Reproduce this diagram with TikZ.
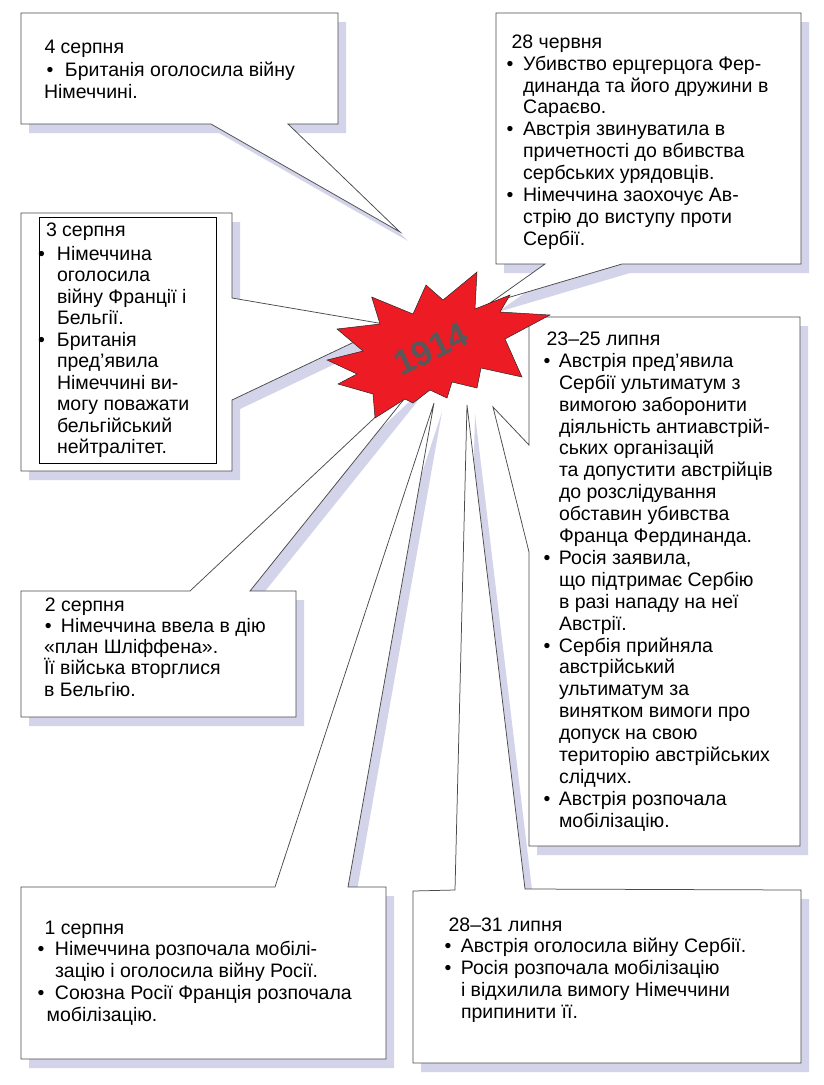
\documentclass[tikz,border=0pt]{standalone}
\usepackage{fontspec}
\setmainfont{Liberation Sans}
\definecolor{shd}{HTML}{D3D3EA}
\definecolor{edgegray}{HTML}{4A4A4A}
\definecolor{starred}{HTML}{ED1C24}
\definecolor{numgray}{HTML}{58585A}
\newcommand{\bul}[2]{\makebox[#2][l]{\hspace*{#1}•}}
\newcommand{\calA}{(21,13) -- (338,13) -- (338,124) -- (288,124) -- (400,232) -- (211,124) -- (21,124) -- cycle}
\newcommand{\calB}{(496,13) -- (801,13) -- (801,264) -- (622,264) -- (490,303) -- (545,264) -- (496,264) -- cycle}
\newcommand{\calC}{(21,213) -- (232,213) -- (232,298) -- (390,325) -- (232,400) -- (232,471) -- (21,471) -- cycle}
\newcommand{\calD}{(529,317) -- (800,317) -- (800,846) -- (529,846) -- (529,552) -- (493,407) -- (529,445) -- cycle}
\newcommand{\calE}{(21,591) -- (190,591) -- (433,363) -- (250,591) -- (296,591) -- (296,717) -- (21,717) -- cycle}
\newcommand{\calF}{(21,887) -- (275,887) -- (434,403) -- (348,887) -- (386,887) -- (386,1059) -- (21,1059) -- cycle}
\newcommand{\calG}{(413,891) -- (455,890) -- (467,405) -- (525,889) -- (801,890) -- (801,1063) -- (413,1063) -- cycle}
\begin{document}
\begin{tikzpicture}[x=1pt,y=-1pt,
  callout/.style={fill=white, draw=edgegray, line width=0.75pt, line join=miter},
  shadowfill/.style={fill=shd, draw=none, shift={(8,9)}},
  txt/.style={anchor=base west, inner sep=0pt, outer sep=0pt}]
\useasboundingbox (0,0) rectangle (824,1085);
% shadows
\foreach \c in {\calA,\calB,\calC,\calD,\calE,\calF,\calG}{
  \fill[shadowfill] \c;
}
% callouts
\draw[callout] \calA;
\draw[callout] \calB;
\draw[callout] \calC;
\draw[callout] \calD;
\draw[callout] \calE;
\draw[callout] \calF;
\draw[callout] \calG;
\draw[black, line width=1pt] (39,217) rectangle (216,463);
% star
\draw[fill=starred, draw=black!85, line width=0.5pt]
 (371.7,297) -- (413,314) -- (426,285) -- (443,300) -- (477,272) -- (475,309)
 -- (510,295) -- (500,312) -- (550,315) -- (505,339) -- (522,377) -- (481,368)
 -- (477,388) -- (452,382) -- (447,398) -- (430,390) -- (413,403) -- (405,399)
 -- (375,418) -- (373,394) -- (338,384) -- (357,374) -- (327,360) -- (363,351)
 -- (337,329) -- (380,324) -- cycle;
\node[rotate=26, text=numgray, inner sep=0pt, font=\fontsize{35}{35}\bfseries\selectfont] (year) at (431,349) {1914};
% texts
\node[txt] (t1) at (44,53.3) {\parbox[t]{300pt}{\raggedright\fontsize{19.5}{21.7}\selectfont
\hspace*{0.5pt}4 серпня\\[1.5pt]
\bul{2.5pt}{21pt}Британія оголосила війну\\
Німеччині.}};
\node[txt] (t2) at (506.6,48.3) {\parbox[t]{300pt}{\raggedright\fontsize{19.5}{21.87}\selectfont
\hspace*{5pt}28 червня\\
\bul{0pt}{16.5pt}Убивство ерцгерцога Фер-\\
\hspace*{16.5pt}динанда та його дружини в\\
\hspace*{16.5pt}Сараєво.\\
\bul{0pt}{16.5pt}Австрія звинуватила в\\
\hspace*{16.5pt}причетності до вбивства\\
\hspace*{16.5pt}сербських урядовців.\\
\bul{0pt}{16.5pt}Німеччина заохочує Ав-\\
\hspace*{16.5pt}стрію до виступу проти\\
\hspace*{16.5pt}Сербії.}};
\node[txt] (t3) at (38,236) {\parbox[t]{200pt}{\raggedright\fontsize{19.5}{21.5}\selectfont
\hspace*{8pt}3 серпня\\[2.5pt]
\bul{0pt}{19pt}Німеччина\\
\hspace*{19pt}оголосила\\
\hspace*{19pt}війну Франції і\\
\hspace*{19pt}Бельгії.\\
\bul{0pt}{19pt}Британія\\
\hspace*{19pt}пред’явила\\
\hspace*{19pt}Німеччині ви-\\
\hspace*{19pt}могу поважати\\
\hspace*{19pt}бельгійський\\
\hspace*{19pt}нейтралітет.}};
\node[txt] (t4) at (543.6,345.4) {\parbox[t]{300pt}{\raggedright\fontsize{19.5}{21.9}\selectfont
\hspace*{3pt}23–25 липня\\
\bul{0pt}{15.4pt}Австрія пред’явила\\
\hspace*{15.4pt}Сербії ультиматум з\\
\hspace*{15.4pt}вимогою заборонити\\
\hspace*{15.4pt}діяльність антиавстрій-\\
\hspace*{15.4pt}ських організацій\\
\hspace*{15.4pt}та допустити австрійців\\
\hspace*{15.4pt}до розслідування\\
\hspace*{15.4pt}обставин убивства\\
\hspace*{15.4pt}Франца Фердинанда.\\
\bul{0pt}{15.4pt}Росія заявила,\\
\hspace*{15.4pt}що підтримає Сербію\\
\hspace*{15.4pt}в разі нападу на неї\\
\hspace*{15.4pt}Австрії.\\
\bul{0pt}{15.4pt}Сербія прийняла\\
\hspace*{15.4pt}австрійський\\
\hspace*{15.4pt}ультиматум за\\
\hspace*{15.4pt}винятком вимоги про\\
\hspace*{15.4pt}допуск на свою\\
\hspace*{15.4pt}територію австрійських\\
\hspace*{15.4pt}слідчих.\\
\bul{0pt}{15.4pt}Австрія розпочала\\
\hspace*{15.4pt}мобілізацію.}};
\node[txt] (t5) at (44,611) {\parbox[t]{300pt}{\raggedright\fontsize{19.5}{21.3}\selectfont
\hspace*{1pt}2 серпня\\
\bul{1pt}{17pt}Німеччина ввела в дію\\
«план Шліффена».\\
Її війська вторглися\\
в Бельгію.}};
\node[txt] (t6) at (37.6,934) {\parbox[t]{400pt}{\raggedright\fontsize{19.5}{21.8}\selectfont
\hspace*{7pt}1 серпня\\
\bul{0pt}{17.4pt}Німеччина розпочала мобілі-\\
\hspace*{17.4pt}зацію і оголосила війну Росії.\\
\bul{0pt}{17.4pt}Союзна Росії Франція розпочала\\
\hspace*{9pt}мобілізацію.}};
\node[txt] (t7) at (444.6,931) {\parbox[t]{400pt}{\raggedright\fontsize{19.5}{21.9}\selectfont
\hspace*{4pt}28–31 липня\\
\bul{0pt}{16.4pt}Австрія оголосила війну Сербії.\\
\bul{0pt}{16.4pt}Росія розпочала мобілізацію\\
\hspace*{16.4pt}і відхилила вимогу Німеччини\\
\hspace*{16.4pt}припинити її.}};
\end{tikzpicture}
\end{document}
